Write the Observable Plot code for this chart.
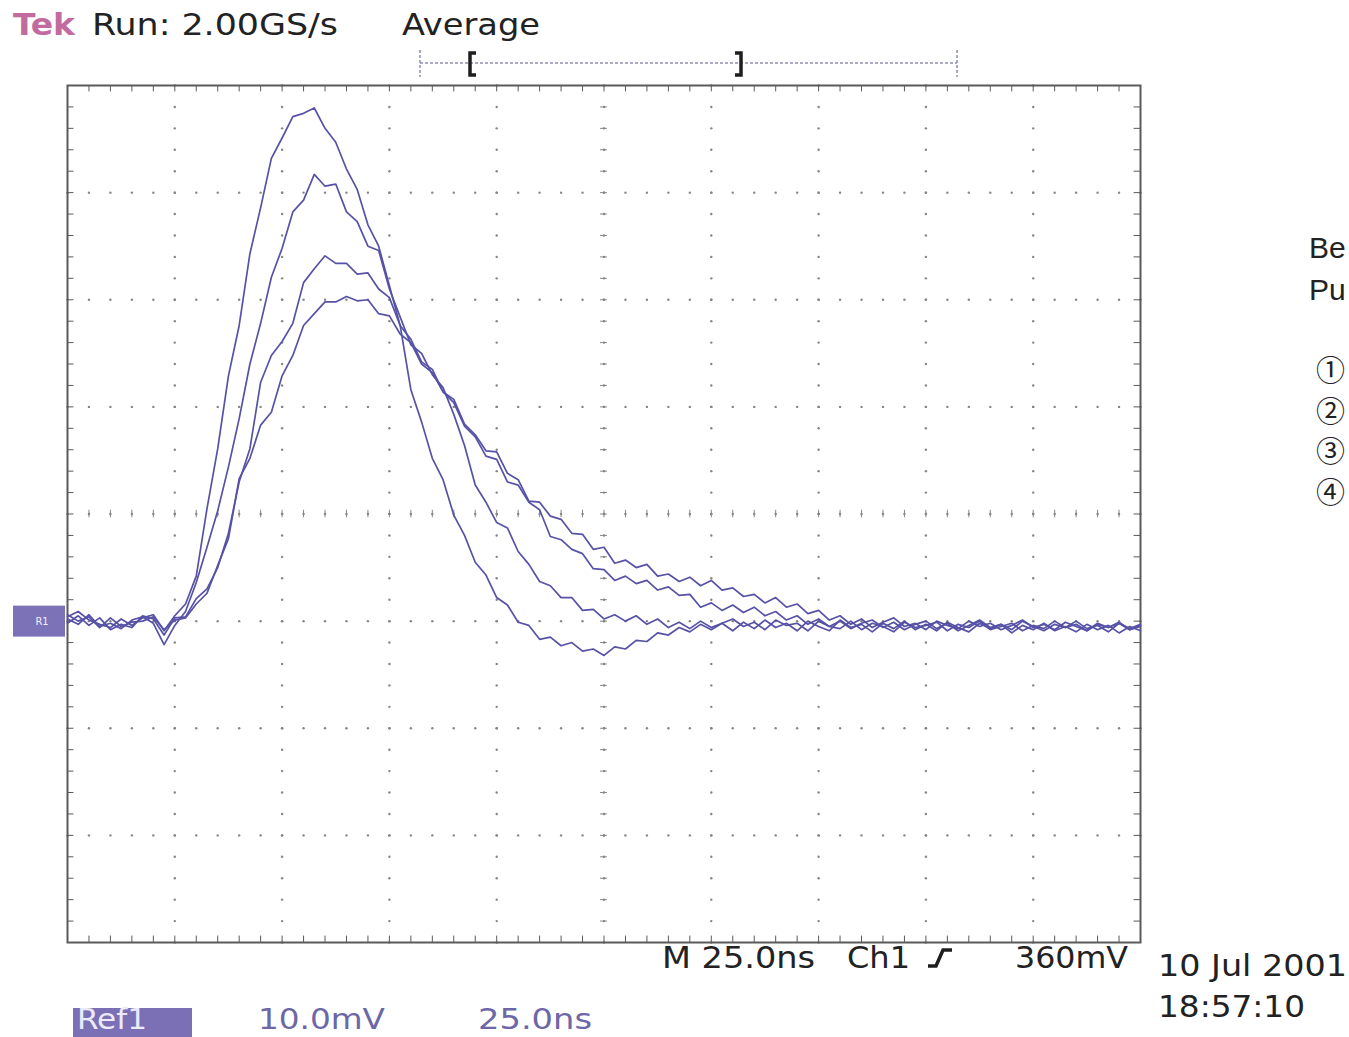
<!DOCTYPE html>
<html>
<head>
<meta charset="utf-8">
<script src="https://cdn.jsdelivr.net/npm/d3@7"></script>
<script src="https://cdn.jsdelivr.net/npm/@observablehq/plot@0.6"></script>
<style>
  html, body { margin: 0; padding: 0; background: #ffffff; }
  #screen { position: relative; width: 1349px; height: 1037px; overflow: hidden; background: #ffffff; }
  #screen > svg { position: absolute; left: 0; top: 0; }
</style>
</head>
<body>
<div id="screen"></div>
<script>
// Record: Ref1, 10.0 mV/div, 25.0 ns/div, four averaged pulses sampled every 2.5 ns
const sampleStepNs = 2.5;
const traceNames = ["①", "②", "③", "④"];

const trace1Mv = [
  0.4, 0.9, 0.1, -0.3, -0.6, 0.2, -0.4, 0.3, 0.6, -0.9, 0.5,
  1.6, 4.2, 10.5, 16.1, 22.9, 27.6, 34.3, 38.6, 43.2, 45.1,
  47.1, 47.4, 47.9, 46.0, 44.7, 42.2, 40.3, 37.0, 35.0, 31.3,
  27.6, 21.6, 18.6, 15.2, 13.2, 9.9, 8.0, 5.5, 4.3, 2.2,
  1.5, -0.1, -0.4, -1.7, -1.5, -2.3, -2.0, -2.8, -2.6, -3.2,
  -2.4, -2.6, -1.8, -1.9, -1.1, -1.3, -0.6, -1.0, -0.3, -0.8,
  -0.2, -0.9, -0.1, -0.7, 0.1, -0.6, -0.2, -0.9, 0.0, -0.5,
  -0.9, 0.1, -0.6, -0.3, -1.0, -0.2, -0.7, 0.0, -0.8, -0.3,
  -0.9, -0.1, -0.6, -1.0, -0.2, -0.7, -0.3, -1.1, -0.4, -0.8,
  -0.2, -0.9, -0.5, -1.0, -0.3, -0.8, -0.4, -1.1, -0.5, -0.9
];

const trace2Mv = [
  0.2, -0.3, 0.6, -0.5, -0.2, -0.7, 0.1, 0.4, -0.2, -2.2, -0.4,
  0.9, 3.6, 6.9, 10.3, 14.4, 18.9, 24.0, 27.8, 32.1, 34.8,
  38.2, 39.3, 41.7, 40.6, 40.8, 38.2, 37.3, 35.0, 34.6, 31.0,
  28.4, 25.8, 25.0, 23.0, 21.8, 19.3, 16.4, 12.7, 11.1, 9.2,
  8.7, 6.5, 5.3, 3.7, 3.3, 2.2, 2.2, 1.0, 1.1, 0.2,
  0.6, 0.0, 0.5, -0.3, 0.2, -0.6, -0.1, -0.7, 0.0, -0.6,
  -0.2, 0.2, -0.5, -0.1, -0.8, 0.1, -0.4, -0.2, -0.9, 0.0,
  -0.5, -0.7, 0.0, -0.8, -0.2, -0.5, -1.0, -0.1, -0.6, -0.4,
  -0.1, -0.9, -0.3, -0.6, 0.0, -0.8, -0.5, -0.2, -0.9, -0.4,
  -0.7, 0.0, -0.6, -0.3, -0.9, -0.2, -0.6, -0.1, -0.8, -0.4
];

const trace3Mv = [
  -0.2, 0.5, -0.4, 0.3, -0.8, -0.3, -0.6, 0.5, 0.2, -1.3, 0.3,
  0.4, 2.1, 3.0, 5.0, 8.2, 13.0, 16.1, 22.3, 24.8, 26.1,
  27.8, 31.6, 32.9, 34.1, 33.4, 33.4, 32.4, 32.5, 31.0, 30.2,
  27.6, 26.3, 24.2, 23.5, 21.4, 20.4, 18.2, 17.2, 15.4, 15.1,
  13.0, 12.7, 11.1, 10.4, 7.9, 7.6, 6.7, 6.3, 4.9, 4.8,
  3.8, 4.2, 3.5, 3.8, 2.9, 3.2, 2.4, 2.5, 1.3, 1.7,
  1.0, 1.5, 0.8, 1.3, 0.5, 0.9, 0.1, 0.5, -0.3, 0.2,
  -0.5, 0.0, -0.7, -0.2, 0.1, -0.6, -0.1, -0.8, -0.3, 0.0,
  -0.7, -0.2, -0.9, -0.4, 0.1, -0.6, -0.3, -0.8, 0.0, -0.5,
  -0.9, -0.3, -0.6, 0.0, -0.7, -0.4, -1.0, -0.2, -0.7, -0.3
];

const trace4Mv = [
  0.6, 0.0, 0.4, -0.6, 0.3, -0.5, -0.1, 0.0, 0.4, -0.8, 0.1,
  0.3, 1.6, 2.6, 5.2, 7.7, 13.3, 15.2, 18.3, 19.5, 22.9,
  24.8, 27.6, 28.7, 29.8, 29.8, 30.3, 29.9, 30.0, 28.7, 28.5,
  26.8, 26.0, 24.0, 23.2, 21.4, 20.7, 18.4, 17.4, 15.9, 15.8,
  13.8, 13.2, 11.2, 11.1, 9.8, 9.5, 8.2, 8.1, 6.7, 6.9,
  5.4, 5.7, 5.0, 5.3, 4.2, 4.4, 3.7, 4.1, 3.3, 3.8,
  2.9, 3.1, 2.3, 2.5, 1.7, 2.2, 1.3, 1.6, 0.7, 1.0,
  0.1, 0.5, -0.3, 0.2, -0.6, -0.1, 0.3, -0.5, -0.2, -0.8,
  0.0, -0.4, -0.7, 0.0, -0.5, -0.2, -0.8, -0.4, 0.1, -0.6,
  -0.3, -0.8, -0.1, -0.5, -0.9, -0.3, -0.6, -0.2, -0.8, -0.5
];

// Graticule: 10 x 8 divisions, five minor steps per division
const timeDivNs = [0, 25, 50, 75, 100, 125, 150, 175, 200, 225, 250];
const voltDivMv = [-30, -20, -10, 0, 10, 20, 30, 40, 50];
const minorTimeStepNs = 5;
const minorVoltStepMv = 2;

const traceColor = "#5652a6";
const gratColor = "#858585";
const rimColor = "#5a5a5a";

const rows = [trace1Mv, trace2Mv, trace3Mv, trace4Mv].flatMap((series, k) =>
  series.map((mv, i) => ({ t: i * sampleStepNs, mv, trace: traceNames[k] }))
);

const tMin = timeDivNs[0], tMax = timeDivNs[timeDivNs.length - 1];
const vMin = voltDivMv[0], vMax = voltDivMv[voltDivMv.length - 1];
const minorT = d3.range(tMin, tMax + 1e-9, minorTimeStepNs);
const minorV = d3.range(vMin, vMax + 1e-9, minorVoltStepMv);
const innerT = timeDivNs.slice(1, -1);
const innerV = voltDivMv.slice(1, -1);
const tCenter = (tMin + tMax) / 2;
const vCenter = (vMin + vMax) / 2;

const gridDots = [
  ...innerT.flatMap(t => minorV.map(v => ({ t, v }))),
  ...innerV.flatMap(v => minorT.map(t => ({ t, v })))
];

const chart = Plot.plot({
  width: 1349,
  height: 1037,
  marginLeft: 67,
  marginRight: 209,
  marginTop: 85,
  marginBottom: 95,
  x: { domain: [tMin, tMax], axis: null },
  y: { domain: [vMin, vMax], axis: null },
  style: { background: "transparent", overflow: "visible" },
  marks: [
    Plot.dot(gridDots, { x: "t", y: "v", r: 1.2, fill: gratColor }),
    // centre cross-hair minor ticks
    Plot.ruleY(minorV, { y: d => d, x1: tCenter - 0.8, x2: tCenter + 0.8, stroke: gratColor }),
    Plot.ruleX(minorT, { x: d => d, y1: vCenter - 0.35, y2: vCenter + 0.35, stroke: gratColor }),
    // rim ticks
    Plot.ruleX(minorT, { x: d => d, y1: vMax, y2: vMax - 0.6, stroke: rimColor }),
    Plot.ruleX(minorT, { x: d => d, y1: vMin, y2: vMin + 0.6, stroke: rimColor }),
    Plot.ruleY(minorV, { y: d => d, x1: tMin, x2: tMin + 1.5, stroke: rimColor }),
    Plot.ruleY(minorV, { y: d => d, x1: tMax, x2: tMax - 1.5, stroke: rimColor }),
    Plot.frame({ stroke: rimColor, strokeWidth: 2 }),
    Plot.line(rows, { x: "t", y: "mv", z: "trace", stroke: traceColor, strokeWidth: 1.7, strokeLinejoin: "round" })
  ]
});

const screen = document.getElementById("screen");
screen.appendChild(chart);

// Readout overlay: header, record bar, scale readouts, ground marker
const yScale = chart.scale("y");
const groundY = yScale.apply(0);

const ann = d3.select(screen).append("svg")
  .attr("width", 1349).attr("height", 1037);

const tekFont = "'DejaVu Sans Condensed', 'DejaVu Sans', sans-serif";

function label(text, x, y, width, size, color, weight) {
  ann.append("text")
    .attr("x", x).attr("y", y)
    .attr("textLength", width).attr("lengthAdjust", "spacingAndGlyphs")
    .attr("font-family", tekFont)
    .attr("font-size", size)
    .attr("font-weight", weight || "normal")
    .attr("fill", color)
    .text(text);
}

// header
label("Tek", 13, 35, 62, 31, "#c26b9e", "bold");
label("Run: 2.00GS/s", 92, 35, 246, 31, "#222222", "normal");
label("Average", 402, 35, 138, 31, "#222222", "normal");

// record view bar
ann.append("line").attr("x1", 420).attr("x2", 957).attr("y1", 63).attr("y2", 63)
  .attr("stroke", "#8f8fb6").attr("stroke-width", 1.5).attr("stroke-dasharray", "3,2");
for (const bx of [420, 957]) {
  ann.append("line").attr("x1", bx).attr("x2", bx).attr("y1", 50).attr("y2", 77)
    .attr("stroke", "#8f8fb6").attr("stroke-width", 1.5).attr("stroke-dasharray", "3,2");
}
ann.append("path").attr("d", "M476,53 H470 V75 H476")
  .attr("fill", "none").attr("stroke", "#1e1e1e").attr("stroke-width", 3.5);
ann.append("path").attr("d", "M735,53 H741 V75 H735")
  .attr("fill", "none").attr("stroke", "#1e1e1e").attr("stroke-width", 3.5);

// ground reference marker
ann.append("rect").attr("x", 13).attr("y", groundY - 15).attr("width", 52).attr("height", 31)
  .attr("fill", "#7b72b7");
ann.append("text").attr("x", 42).attr("y", groundY + 4).attr("text-anchor", "middle")
  .attr("font-family", tekFont).attr("font-size", 11).attr("fill", "#f2f0fb").text("R1");

// horizontal / trigger readout
label("M 25.0ns", 662, 968, 153, 31, "#222222", "normal");
label("Ch1", 847, 968, 63, 31, "#222222", "normal");
ann.append("path").attr("d", "M928,966 H936 L943,950 H952")
  .attr("fill", "none").attr("stroke", "#1e1e1e").attr("stroke-width", 3.5);
label("360mV", 1015, 968, 113, 31, "#222222", "normal");
label("10 Jul 2001", 1158, 976, 189, 31, "#222222", "normal");
label("18:57:10", 1158, 1017, 147, 30, "#222222", "normal");

// reference waveform readout
ann.append("rect").attr("x", 73).attr("y", 1008).attr("width", 119).attr("height", 29).attr("fill", "#7b70b6");
label("Ref1", 77, 1029, 70, 29, "#eceaf7", "normal");
label("10.0mV", 258, 1029, 127, 29, "#6c67a6", "normal");
label("25.0ns", 478, 1029, 114, 29, "#6c67a6", "normal");

// side legend
const sideFont = "'Liberation Sans', Arial, sans-serif";
for (const [txt, y] of [["Be", 258], ["Pu", 300]]) {
  ann.append("text").attr("x", 1309).attr("y", y)
    .attr("font-family", sideFont).attr("font-size", 30).attr("fill", "#222222").text(txt);
}
traceNames.forEach((name, i) => {
  ann.append("text").attr("x", 1316).attr("y", [381, 422, 462, 503][i])
    .attr("font-family", "'Noto Sans CJK JP', 'DejaVu Sans', sans-serif")
    .attr("font-size", 29).attr("fill", "#222222").text(name);
});
</script>
</body>
</html>
